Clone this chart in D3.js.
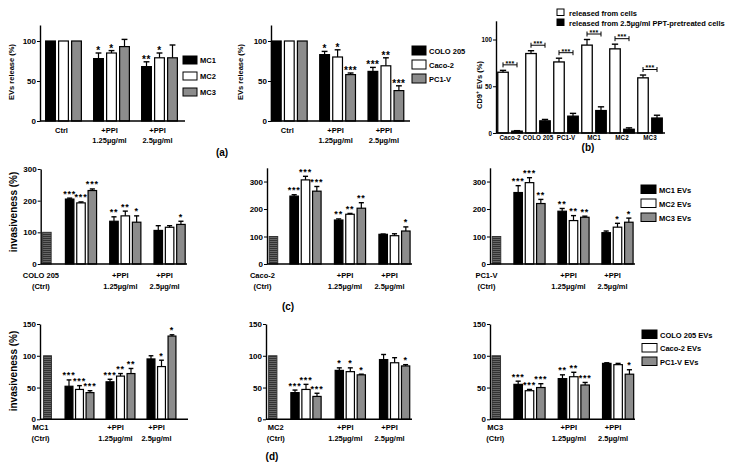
<!DOCTYPE html>
<html>
<head>
<meta charset="utf-8">
<script src="https://cdn.jsdelivr.net/npm/d3@7"></script>
<style>
body { margin: 0; background: #fff; }
svg text { font-family: "Liberation Sans", Arial, sans-serif; font-weight: bold; }
</style>
</head>
<body>
<script>
'use strict';

// ---------- data ----------
const ctrlValue = 100

// (a) EV release
const aLine1 = ["Ctrl", "+PPI", "+PPI"]
const aLine2 = ["", "1.25µg/ml", "2.5µg/ml"]
const aSeriesL = ["MC1", "MC2", "MC3"]
const aMeanL = [[100, 78, 68], [100, 85, 79], [100, 93, 79]]
const aErrL = [[0, 7, 6], [0, 3, 6], [0, 9, 16]]
const aStarsL = [["", "*", "**"], ["", "*", "*"], ["", "", ""]]
const aSeriesR = ["COLO 205", "Caco-2", "PC1-V"]
const aMeanR = [[100, 83, 62], [100, 80, 69], [100, 58, 38]]
const aErrR = [[0, 4, 5], [0, 9, 10], [0, 2, 6]]
const aStarsR = [["", "*", "***"], ["", "*", "**"], ["", "***", "***"]]
const aTicks = [0, 50, 100]

// (b) CD9+ EVs
const bCells = ["Caco-2", "COLO 205", "PC1-V", "MC1", "MC2", "MC3"]
const bKinds = ["released from cells", "released from 2.5µg/ml PPT-pretreated cells"]
const bFromCells = [65, 85, 76, 94, 90, 59]
const bFromCellsErr = [2, 3, 4, 6, 5, 3]
const bPretreated = [2, 13, 18, 24, 4, 16]
const bPretreatedErr = [0.5, 1.5, 3, 4, 1.5, 3]
const bStars = ["***", "***", "***", "***", "***", "***"]
const bTicks = [0, 50, 100]

// (c) invasiveness of CRC cells with MC EVs
const grpLine1 = ["", "+PPI", "+PPI"]
const grpLine2 = ["", "1.25µg/ml", "2.5µg/ml"]
const cCtrlNames = ["COLO 205", "Caco-2", "PC1-V"]
const cSeries = ["MC1 EVs", "MC2 EVs", "MC3 EVs"]
const c1Mean = [[205, 135, 106], [193, 152, 116], [232, 132, 125]]
const c1Err = [[3, 14, 15], [3, 15, 5], [5, 20, 10]]
const c1Stars = [["***", "**", ""], ["***", "**", ""], ["***", "*", "*"]]
const c2Mean = [[247, 160, 108], [306, 181, 103], [265, 203, 120]]
const c2Err = [[5, 4, 1], [13, 3, 7], [17, 20, 15]]
const c2Stars = [["***", "**", ""], ["***", "**", ""], ["***", "**", "*"]]
const c3Mean = [[260, 192, 114], [296, 158, 134], [220, 170, 152]]
const c3Err = [[25, 10, 6], [18, 18, 14], [15, 4, 15]]
const c3Stars = [["***", "**", ""], ["***", "**", "*"], ["**", "**", "*"]]
const cTicks = [0, 100, 200, 300]

// (d) invasiveness of MC cells with CRC EVs
const dCtrlNames = ["MC1", "MC2", "MC3"]
const dSeries = ["COLO 205 EVs", "Caco-2 EVs", "PC1-V EVs"]
const d1Mean = [[52, 59, 95], [47, 68, 83], [42, 72, 131]]
const d1Err = [[10, 4, 5], [6, 4, 10], [3, 8, 2]]
const d1Stars = [["***", "***", ""], ["***", "**", "*"], ["***", "**", "*"]]
const d2Mean = [[42, 77, 94], [47, 75, 89], [36, 70, 84]]
const d2Err = [[4, 4, 8], [8, 6, 8], [5, 1, 2]]
const d2Stars = [["***", "*", ""], ["***", "*", ""], ["***", "*", "*"]]
const d3Mean = [[55, 64, 88], [45, 67, 86], [50, 54, 71]]
const d3Err = [[5, 6, 1], [2, 7, 2], [6, 4, 7]]
const d3Stars = [["***", "**", ""], ["***", "**", ""], ["***", "***", "*"]]
const dTicks = [0, 50, 100, 150]

// ---------- drawing ----------
const fills = ["#000000", "#ffffff", "#8c8c8c"]

const svg = d3.select('body').append('svg')
  .attr('width', 748)
  .attr('height', 475)

// hatched fill for the control bars
const pat = svg.append('defs').append('pattern')
  .attr('id', 'hatch')
  .attr('patternUnits', 'userSpaceOnUse')
  .attr('width', 4).attr('height', 2)
pat.append('rect').attr('width', 4).attr('height', 2).attr('fill', '#666')
pat.append('rect').attr('width', 4).attr('height', 1).attr('fill', '#333')

function yAxis(g, y, x0, ticks, fs) {
  const ax = g.append('g')
    .attr('transform', 'translate(' + x0 + ',0)')
    .call(d3.axisLeft(y).tickValues(ticks).tickSize(3).tickSizeOuter(0).tickPadding(1))
  ax.attr('font-size', fs)
  ax.select('.domain').attr('stroke-width', 1.4)
  ax.selectAll('.tick line').attr('stroke-width', 1)
  return ax
}

function errorBar(g, cx, yLow, yHigh, w) {
  g.append('line').attr('x1', cx).attr('x2', cx).attr('y1', yLow).attr('y2', yHigh)
    .attr('stroke', '#000').attr('stroke-width', 1.2)
  g.append('line').attr('x1', cx - w / 2).attr('x2', cx + w / 2).attr('y1', yHigh).attr('y2', yHigh)
    .attr('stroke', '#000').attr('stroke-width', 1.4)
}

// grouped bar panel used by (a), (c) and (d)
function groupedPanel(p) {
  const g = svg.append('g')
  const y = d3.scaleLinear().domain([0, p.yMax]).range([p.yBase, p.yTop])
  const gx = d3.scaleLinear().domain([0, 1]).range([p.x0 + p.gFirst, p.x0 + p.gFirst + p.gStep])
  const bx = d3.scaleBand().domain(d3.range(p.mean.length)).range([-p.half, p.half])
    .paddingInner(0.25).paddingOuter(0.125)
  const bw = bx.bandwidth()

  const rows = []
  p.mean.forEach((vals, s) => vals.forEach((v, i) => {
    rows.push({ s: s, i: i, v: v, e: p.err[s][i], star: p.stars[s][i] })
  }))

  g.selectAll('rect.bar').data(rows).join('rect')
    .attr('class', 'bar')
    .attr('x', d => gx(d.i) + bx(d.s))
    .attr('y', d => y(d.v))
    .attr('width', bw)
    .attr('height', d => y(0) - y(d.v))
    .attr('fill', d => fills[d.s])
    .attr('stroke', '#000')
    .attr('stroke-width', 1.2)

  rows.filter(d => d.e > 0).forEach(d => {
    errorBar(g, gx(d.i) + bx(d.s) + bw / 2, y(d.v), y(d.v + d.e), bw * 0.6)
  })

  g.selectAll('text.star').data(rows.filter(d => d.star)).join('text')
    .attr('class', 'star')
    .attr('x', d => gx(d.i) + bx(d.s) + bw / 2)
    .attr('y', d => y(d.v + d.e) + p.starDy)
    .attr('text-anchor', 'middle')
    .style('font-size', p.starFs + 'px')
    .style('letter-spacing', p.starLs + 'px')
    .text(d => d.star)

  // control bar
  if (p.ctrlName) {
    const cx = gx(p.ctrlAt)
    g.append('rect')
      .attr('x', cx - bw / 2).attr('y', y(ctrlValue))
      .attr('width', bw).attr('height', y(0) - y(ctrlValue))
      .attr('fill', 'url(#hatch)').attr('stroke', '#333').attr('stroke-width', 1)
    g.append('text').attr('x', cx + p.ctrlDx).attr('y', p.lbl1).attr('text-anchor', 'middle')
      .style('font-size', p.lblFs + 'px').text(p.ctrlName)
    g.append('text').attr('x', cx + p.ctrlDx).attr('y', p.lbl2).attr('text-anchor', 'middle')
      .style('font-size', p.lblFs + 'px').text('(Ctrl)')
  }

  // x axis line
  g.append('line').attr('x1', p.x0).attr('x2', p.x1).attr('y1', y(0)).attr('y2', y(0))
    .attr('stroke', '#000').attr('stroke-width', 1.5)
  yAxis(g, y, p.x0, p.ticks, p.tickFs)

  // group labels
  p.line1.forEach((t, i) => {
    g.append('text').attr('x', gx(i) + p.lblDx).attr('y', p.lbl1).attr('text-anchor', 'middle')
      .style('font-size', p.lblFs + 'px').text(t)
    g.append('text').attr('x', gx(i) + p.lblDx).attr('y', p.lbl2).attr('text-anchor', 'middle')
      .style('font-size', p.lblFs + 'px').text(p.line2[i])
  })

  if (p.yTitle) {
    g.append('text')
      .attr('transform', 'translate(' + p.yTitleX + ',' + p.yTitleY + ')rotate(-90)')
      .attr('text-anchor', 'middle')
      .style('font-size', p.yTitleFs + 'px')
      .text(p.yTitle)
  }
}

function legend(x, y0, step, names, w, h, fs) {
  names.forEach((n, i) => {
    svg.append('rect').attr('x', x).attr('y', y0 + i * step).attr('width', w).attr('height', h)
      .attr('fill', fills[i]).attr('stroke', '#000').attr('stroke-width', 1)
    svg.append('text').attr('x', x + w + 3).attr('y', y0 + i * step + h - 1)
      .style('font-size', fs + 'px').text(n)
  })
}

function panelLetter(t, x, y) {
  svg.append('text').attr('x', x).attr('y', y).attr('text-anchor', 'middle')
    .style('font-size', '10px').text(t)
}

// ----- (a) -----
const aCommon = {
  yMax: 120, yBase: 121, yTop: 25, ticks: aTicks, tickFs: 8,
  half: 19.5, line1: aLine1, line2: aLine2, lbl1: 133, lbl2: 143, lblFs: 7.5, lblDx: -2,
  starDy: 1, starFs: 10, starLs: 0.5, yTitle: 'EVs release (%)', yTitleFs: 7.5, yTitleY: 72
}
groupedPanel(Object.assign({}, aCommon, {
  x0: 40, x1: 185, gFirst: 23.5, gStep: 48,
  mean: aMeanL, err: aErrL, stars: aStarsL, yTitleX: 14
}))
groupedPanel(Object.assign({}, aCommon, {
  x0: 271, x1: 410, gFirst: 18.3, gStep: 48.3,
  mean: aMeanR, err: aErrR, stars: aStarsR, yTitleX: 243
}))
legend(183, 56, 16, aSeriesL, 14, 8, 7.5)
legend(412, 46, 14, aSeriesR, 14, 9, 7.5)
panelLetter('(a)', 222, 156)

// ----- (b) -----
{
  const g = svg.append('g')
  const y = d3.scaleLinear().domain([0, 120]).range([133, 20.8])
  const cx = d3.scaleBand().domain(bCells).range([496, 664])
  const px = d3.scaleBand().domain([0, 1]).range([-14, 14]).paddingInner(0.25).paddingOuter(0.125)
  const bw = px.bandwidth()
  const rows = []
  bCells.forEach((c, i) => {
    rows.push({ c: c, k: 0, v: bFromCells[i], e: bFromCellsErr[i] })
    rows.push({ c: c, k: 1, v: bPretreated[i], e: bPretreatedErr[i] })
  })
  const barX = d => cx(d.c) + cx.bandwidth() / 2 + px(d.k)

  g.selectAll('rect').data(rows).join('rect')
    .attr('x', barX)
    .attr('y', d => y(d.v))
    .attr('width', bw)
    .attr('height', d => y(0) - y(d.v))
    .attr('fill', d => d.k === 0 ? '#fff' : '#000')
    .attr('stroke', '#000').attr('stroke-width', 1.3)
  rows.forEach(d => errorBar(g, barX(d) + bw / 2, y(d.v), y(d.v + d.e), bw * 0.6))

  // significance brackets
  bCells.forEach((c, i) => {
    const xa = barX({ c: c, k: 0 }) + bw / 2
    const xb = barX({ c: c, k: 1 }) + bw / 2
    const yb = y(bFromCells[i] + bFromCellsErr[i]) - 5.5
    g.append('line').attr('x1', xa).attr('x2', xb).attr('y1', yb).attr('y2', yb)
      .attr('stroke', '#000').attr('stroke-width', 1)
    ;[xa, xb].forEach(xx => g.append('line').attr('x1', xx).attr('x2', xx)
      .attr('y1', yb - 2.5).attr('y2', yb + 2.5).attr('stroke', '#000').attr('stroke-width', 1))
    g.append('text').attr('x', (xa + xb) / 2).attr('y', yb + 0.8).attr('text-anchor', 'middle')
      .style('font-size', '7px').style('letter-spacing', '0.3px').text(bStars[i])
    g.append('text').attr('x', cx(c) + cx.bandwidth() / 2).attr('y', 139.5).attr('text-anchor', 'middle')
      .style('font-size', '6.3px').text(c)
  })

  g.append('line').attr('x1', 496).attr('x2', 665).attr('y1', y(0)).attr('y2', y(0))
    .attr('stroke', '#000').attr('stroke-width', 1.5)
  yAxis(g, y, 496, bTicks, 6.3)

  g.append('text')
    .attr('transform', 'translate(482,85)rotate(-90)')
    .attr('text-anchor', 'middle')
    .style('font-size', '7.5px')
    .call(t => {
      t.append('tspan').text('CD9')
      t.append('tspan').attr('dy', -3).style('font-size', '5px').text('+')
      t.append('tspan').attr('dy', 3).text(' EVs (%)')
    })

  bKinds.forEach((k, i) => {
    svg.append('rect').attr('x', 557).attr('y', 9 + i * 10).attr('width', 7).attr('height', 6.5)
      .attr('fill', i === 0 ? '#fff' : '#000').attr('stroke', '#000').attr('stroke-width', 1)
    svg.append('text').attr('x', 569).attr('y', 15.5 + i * 10)
      .style('font-size', '7.5px').text(k)
  })
  panelLetter('(b)', 588, 151)
}

// ----- (c) -----
const cCommon = {
  x1: 0, yBase: 264, ticks: cTicks, tickFs: 8, half: 17,
  line1: grpLine1, line2: grpLine2, lbl1: 278, lbl2: 289, lblFs: 7.5, lblDx: -5,
  starDy: -1.5, starFs: 9, starLs: 0.8, yTitleFs: 10
}
groupedPanel(Object.assign({}, cCommon, {
  x0: 40.7, x1: 187, yMax: 300, yTop: 169, gFirst: 40.3, gStep: 44.3, ctrlAt: -0.77,
  ctrlName: cCtrlNames[0], ctrlDx: -6, mean: c1Mean, err: c1Err, stars: c1Stars,
  yTitle: 'invasiveness (%)', yTitleX: 17, yTitleY: 212
}))
groupedPanel(Object.assign({}, cCommon, {
  x0: 267, x1: 412, yMax: 350, yTop: 167.8, gFirst: 38.5, gStep: 44.5, ctrlAt: -0.72,
  ctrlName: cCtrlNames[1], ctrlDx: -11, mean: c2Mean, err: c2Err, stars: c2Stars
}))
groupedPanel(Object.assign({}, cCommon, {
  x0: 490, x1: 635, yMax: 350, yTop: 167.8, gFirst: 39.5, gStep: 44, ctrlAt: -0.75,
  ctrlName: cCtrlNames[2], ctrlDx: -10, mean: c3Mean, err: c3Err, stars: c3Stars
}))
legend(641, 185, 14, cSeries, 15, 8.5, 7.5)
panelLetter('(c)', 288, 310)

// ----- (d) -----
const dCommon = {
  yBase: 419.3, yTop: 324, yMax: 150, ticks: dTicks, tickFs: 8,
  line1: grpLine1, line2: grpLine2, lbl1: 430, lbl2: 441, lblFs: 7.5, lblDx: -5,
  starDy: -1.5, starFs: 9, starLs: 0.8, yTitleFs: 10
}
groupedPanel(Object.assign({}, dCommon, {
  x0: 40, x1: 188, gFirst: 39.5, gStep: 41, half: 15.75, ctrlAt: -0.78,
  ctrlName: dCtrlNames[0], ctrlDx: -7, mean: d1Mean, err: d1Err, stars: d1Stars,
  yTitle: 'invasiveness (%)', yTitleX: 17, yTitleY: 371
}))
groupedPanel(Object.assign({}, dCommon, {
  x0: 266, x1: 412, gFirst: 40, gStep: 44.3, half: 16.5, ctrlAt: -0.75,
  ctrlName: dCtrlNames[1], ctrlDx: 3, mean: d2Mean, err: d2Err, stars: d2Stars
}))
groupedPanel(Object.assign({}, dCommon, {
  x0: 490, x1: 635, gFirst: 39.5, gStep: 44.3, half: 17, ctrlAt: -0.75,
  ctrlName: dCtrlNames[2], ctrlDx: -1, mean: d3Mean, err: d3Err, stars: d3Stars
}))
legend(642, 330, 13.5, dSeries, 15, 8.5, 7.5)
panelLetter('(d)', 272, 460)
</script>
</body>
</html>
